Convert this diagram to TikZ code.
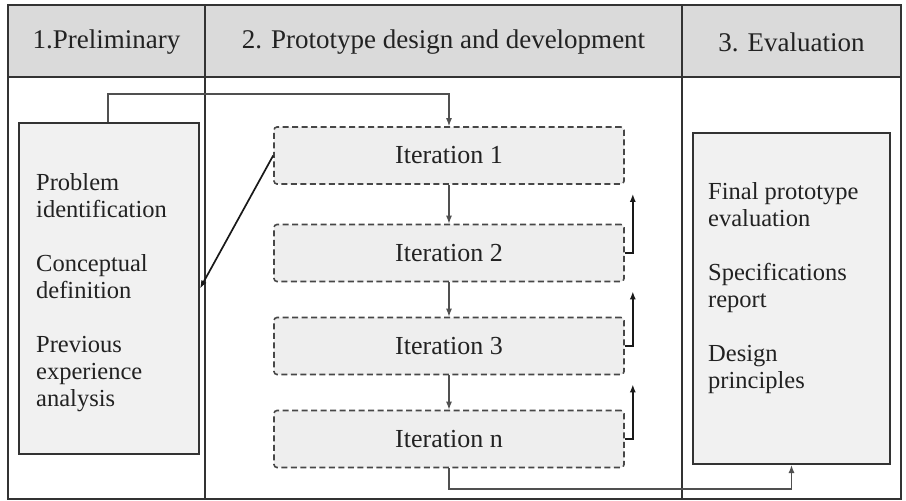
\documentclass[tikz,border=0pt]{standalone}
\usepackage{fontspec}
\setmainfont{Liberation Serif}
\usetikzlibrary{arrows.meta,calc}
\definecolor{hdr}{HTML}{DADADA}
\definecolor{boxfill}{HTML}{F1F1F1}
\definecolor{itfill}{HTML}{EEEEEE}
\definecolor{frame}{HTML}{333333}
\definecolor{conn}{HTML}{505050}
\definecolor{txt}{HTML}{222222}
\tikzset{
  hdrtext/.style={font=\fontsize{27}{30}\selectfont, text=txt},
  phasebox/.style={draw=frame, line width=2pt, fill=boxfill, inner sep=0pt},
  itbox/.style={draw=frame!90, dashed, dash pattern=on 6pt off 3.5pt, line width=1.6pt,
    rounded corners=3pt, fill=itfill, minimum width=350pt, minimum height=57pt,
    font=\fontsize{26}{28}\selectfont, text=txt},
  bodytext/.style={font=\fontsize{24.5}{27}\selectfont, align=left, inner sep=0pt, text=txt},
  greyarrow/.style={draw=conn, line width=1.3pt, -{Latex[length=8pt,width=6pt]}},
  blackarrow/.style={draw=black!90, line width=1.7pt, -{Latex[length=8pt,width=6pt]}},
}
\begin{document}
\begin{tikzpicture}[x=1pt,y=-1pt]
\useasboundingbox (0,0) rectangle (906,501);
% header band and frame
\fill[hdr] (8,5) rectangle (901,77);
\draw[frame, line width=1.6pt] (8,5) rectangle (901,499);
\draw[frame, line width=1.6pt] (8,77) -- (901,77);
\draw[frame, line width=1.6pt] (205,5) -- (205,499);
\draw[frame, line width=1.6pt] (682,5) -- (682,499);
\node[hdrtext] (h1) at (106.5,42) {1.Preliminary};
\node[hdrtext] (h2) at (443.5,42) {2. Prototype design and development};
\node[hdrtext] (h3) at (791.5,42) {3. Evaluation};
% phase boxes
\node[phasebox, minimum width=180pt, minimum height=331pt] (prelim) at (109,288.5) {};
\node[phasebox, minimum width=197pt, minimum height=331pt] (eval) at (791.5,298.5) {};
\node[bodytext, anchor=north west] (ptext) at (36,173) {Problem\\identification\\[27pt]Conceptual\\definition\\[27pt]Previous\\experience\\analysis};
\node[bodytext, anchor=north west] (etext) at (708,182) {Final prototype\\evaluation\\[27pt]Specifications\\report\\[27pt]Design\\principles};
% iterations
\node[itbox] (it1) at (449,155.5) {Iteration 1};
\node[itbox] (it2) at (449,253) {Iteration 2};
\node[itbox] (it3) at (449,346) {Iteration 3};
\node[itbox] (itn) at (449,439) {Iteration n};
% connectors
\draw[greyarrow] (prelim.north -| 108,0) -- (108,94) -- (449,94) -- (it1.north);
\draw[blackarrow] (it1.west) -- (prelim.east);
\draw[greyarrow] (it1.south) -- (it2.north);
\draw[greyarrow] (it2.south) -- (it3.north);
\draw[greyarrow] (it3.south) -- (itn.north);
\draw[blackarrow] (it2.east) -- ++(8,0) -- ($(it1.south east)+(8,9)$);
\draw[blackarrow] (it3.east) -- ++(8,0) -- ($(it2.south east)+(8,9)$);
\draw[blackarrow] (itn.east) -- ++(8,0) -- ($(it3.south east)+(8,9)$);
\draw[greyarrow] (itn.south) -- (449,489) -- (eval.south |- 0,489) -- (eval.south);
\end{tikzpicture}
\end{document}
